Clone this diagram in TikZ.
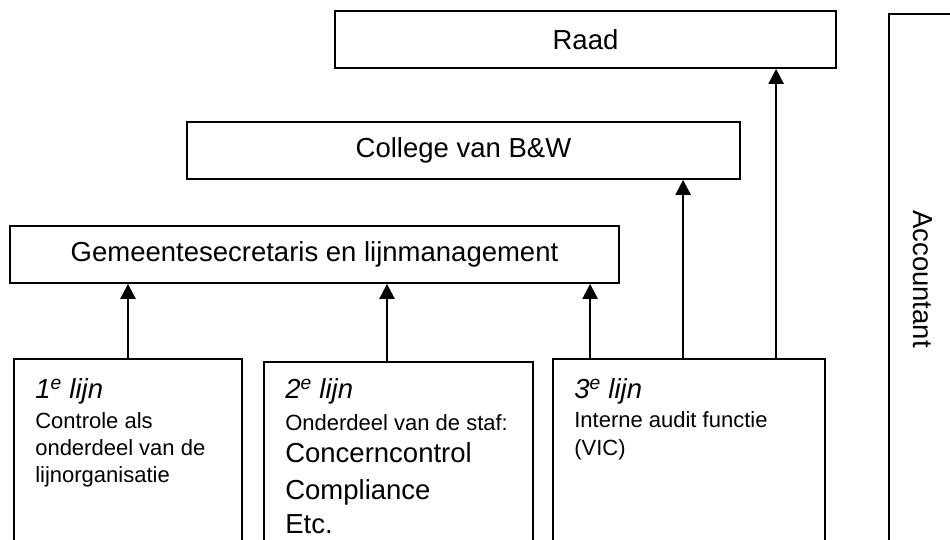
\documentclass[tikz,border=0pt]{standalone}
\usepackage{fontspec}
\setmainfont{Liberation Sans}
\usepackage{tikz}
\usetikzlibrary{positioning, arrows.meta}
\newcommand\groot{\fontsize{27.5pt}{33pt}\selectfont}
\newcommand\klein{\fontsize{22pt}{27pt}\selectfont}

\tikzset{
  kader/.style={draw, line width=1.8pt, inner sep=0pt, font=\groot},
  lijnkader/.style={kader, minimum height=260pt},
  lijntekst/.style={font=\klein, align=left, inner sep=0pt},
  pijl/.style={line width=2.5pt, -{Triangle[length=15pt, width=15pt]}}
}

\begin{document}
\begin{tikzpicture}[x=1pt, y=-1pt]
  \path[use as bounding box, clip] (0,0) rectangle (950,540);

  % bestuurslagen
  \node[kader, minimum width=501pt, minimum height=57pt] (raad) at (585.5,39.5) {Raad};
  \node[kader, minimum width=553pt, minimum height=57pt] (college) at (463.5,150.5) {College van B\&W};
  \node[kader, minimum width=609pt, minimum height=57pt] (gemeente) at (314.5,254.5) {Gemeentesecretaris en lijnmanagement};

  % de drie lijnen
  \node[lijnkader, minimum width=228pt] (lijn1) at (128,489) {};
  \node[lijnkader, minimum width=269pt] (lijn2) at (398.5,492) {};
  \node[lijnkader, minimum width=272pt] (lijn3) at (689,489) {};
  \node[kader, minimum width=111pt, minimum height=586pt] (accountant) at (944.5,307) {};

  \node[lijntekst, below right=20pt and 22pt of lijn1.north west] (tekst1) {%
    {\groot\itshape 1\textsuperscript{e} lijn}\\[3pt]
    Controle als\\
    onderdeel van de\\
    lijnorganisatie};
  \node[lijntekst, below right=17pt and 22pt of lijn2.north west] (tekst2) {%
    {\groot\itshape 2\textsuperscript{e} lijn}\\[5pt]
    Onderdeel van de staf:\\[5pt]
    {\groot Concerncontrol}\\[10pt]
    {\groot Compliance}\\[7pt]
    {\groot Etc.}};
  \node[lijntekst, below right=20pt and 22pt of lijn3.north west] (tekst3) {%
    {\groot\itshape 3\textsuperscript{e} lijn}\\[2pt]
    Interne audit functie\\[1pt]
    (VIC)};
  \node[font=\groot, rotate=-90] (acctekst) at (923,279) {Accountant};

  % rapportagelijnen
  \coordinate (v2) at ([xshift=-11.5pt]lijn2.north);
  \coordinate (v3a) at ([xshift=38pt]lijn3.north west);
  \coordinate (v3b) at ([xshift=131pt]lijn3.north west);
  \coordinate (v3c) at ([xshift=224pt]lijn3.north west);
  \draw[pijl] (lijn1.north) -- (lijn1.north |- gemeente.south);
  \draw[pijl] (v2) -- (v2 |- gemeente.south);
  \draw[pijl] (v3a) -- (v3a |- gemeente.south);
  \draw[pijl] (v3b) -- (v3b |- college.south);
  \draw[pijl] (v3c) -- (v3c |- raad.south);
\end{tikzpicture}
\end{document}
